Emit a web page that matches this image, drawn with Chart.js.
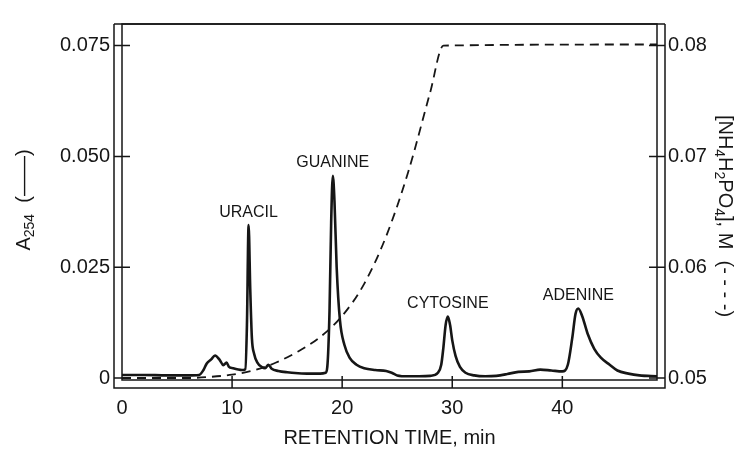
<!DOCTYPE html>
<html>
<head>
<meta charset="utf-8">
<script src="https://cdn.jsdelivr.net/npm/chart.js@4.4.1/dist/chart.umd.min.js"></script>
<style>
  html, body { margin: 0; padding: 0; background: #ffffff; }
  #wrap { width: 747px; height: 451px; }
</style>
</head>
<body>
<div id="wrap"><canvas id="c" width="747" height="451"></canvas></div>
<script>
// ---- Data ----
const timeMin = [0, 2, 4, 6, 7, 7.4, 7.7, 8.1, 8.45, 8.9, 9.2, 9.5, 9.7, 10.1, 10.9, 11.2, 11.35, 11.5, 11.65, 11.8, 12.0, 12.3, 12.7, 13.0, 13.3, 13.6, 14.2, 15, 16, 17, 18, 18.5, 18.65, 18.85, 19.0, 19.15, 19.3, 19.5, 19.8, 20.2, 20.7, 21.3, 22, 23, 24, 24.5, 25, 26, 27, 28, 28.7, 29.0, 29.2, 29.4, 29.6, 29.8, 30.0, 30.3, 30.7, 31.2, 32, 33, 34, 35, 36, 37, 38, 39, 40, 40.5, 40.9, 41.2, 41.45, 41.8, 42.3, 42.9, 43.5, 44.3, 45, 46, 47, 48.6];
const absorbance = [0.0007, 0.0007, 0.0006, 0.0006, 0.0007, 0.0018, 0.0033, 0.0042, 0.0051, 0.0040, 0.0029, 0.0035, 0.0026, 0.0022, 0.0018, 0.0020, 0.0120, 0.0345, 0.0200, 0.0090, 0.0055, 0.0035, 0.0025, 0.0022, 0.0030, 0.0021, 0.0016, 0.0013, 0.0011, 0.0010, 0.0010, 0.0012, 0.0025, 0.0150, 0.0350, 0.0456, 0.0400, 0.0250, 0.0130, 0.0075, 0.0045, 0.0030, 0.0022, 0.0018, 0.0016, 0.0012, 0.0006, 0.0004, 0.0004, 0.0005, 0.0012, 0.0030, 0.0070, 0.0120, 0.0139, 0.0120, 0.0085, 0.0050, 0.0025, 0.0012, 0.0006, 0.0004, 0.0005, 0.0009, 0.0014, 0.0015, 0.0019, 0.0017, 0.0015, 0.0030, 0.0090, 0.0145, 0.0157, 0.0140, 0.0100, 0.0066, 0.0046, 0.0030, 0.0017, 0.0010, 0.0006, 0.0004];

const gradTime = [0, 6, 8, 10, 12, 14, 16, 18, 20, 22, 24, 26, 28, 29.2, 48.6];
const gradConc = [0.0500, 0.0500, 0.0501, 0.0503, 0.0507, 0.0514, 0.0524, 0.0537, 0.0556, 0.0585, 0.0628, 0.0686, 0.0758, 0.0800, 0.0801];

const peakNames = ['URACIL', 'GUANINE', 'CYTOSINE', 'ADENINE'];
const peakTimes = [11.5, 19.15, 29.6, 41.45];

const xTicks = [0, 10, 20, 30, 40];
const leftTicks = [0, 0.025, 0.05, 0.075];
const leftTickLabels = ['0', '0.025', '0.050', '0.075'];
const rightTicks = [0.05, 0.06, 0.07, 0.08];
const rightTickLabels = ['0.05', '0.06', '0.07', '0.08'];

const xTitle = 'RETENTION TIME, min';
// rich titles: [text, isSubscript]
const leftTitleParts = [['A', false], ['254', true], ['  (\u2014\u2014)', false]];
const rightTitleParts = [['[NH', false], ['4', true], ['H', false], ['2', true], ['PO', false], ['4', true], ['], M  (- - - -)', false]];

// ---- Chart ----
const INK = '#161616';
const FONT = 'Liberation Sans, Arial, Helvetica, sans-serif';

const absPoints = timeMin.map((t, i) => ({ x: t, y: absorbance[i] }));
const gradPoints = gradTime.map((t, i) => ({ x: t, y: gradConc[i] }));

function drawRich(ctx, parts, cx, cy, rot) {
  const big = '20px ' + FONT, small = '14px ' + FONT;
  let total = 0;
  parts.forEach(([t, sub]) => { ctx.font = sub ? small : big; total += ctx.measureText(t).width; });
  ctx.save();
  ctx.translate(cx, cy);
  ctx.rotate(rot);
  ctx.textAlign = 'left';
  ctx.textBaseline = 'middle';
  let x = -total / 2;
  parts.forEach(([t, sub]) => {
    ctx.font = sub ? small : big;
    ctx.fillText(t, x, sub ? 6 : 0);
    x += ctx.measureText(t).width;
  });
  ctx.restore();
}

const framePlugin = {
  id: 'frameAndLabels',
  afterDatasetsDraw(chart) {
    const { ctx, chartArea: a, scales } = chart;
    const off = 8;
    ctx.save();
    ctx.strokeStyle = INK;
    ctx.lineWidth = 1.5;
    ctx.strokeRect(a.left, a.top, a.right - a.left, a.bottom - a.top);
    ctx.beginPath();
    ctx.moveTo(a.left - off, a.top);
    ctx.lineTo(a.right + off, a.top);
    ctx.moveTo(a.left - off, a.top);
    ctx.lineTo(a.left - off, a.bottom + off);
    ctx.lineTo(a.right + off, a.bottom + off);
    ctx.lineTo(a.right + off, a.top);
    ctx.stroke();
    ctx.beginPath();
    leftTicks.forEach(v => {
      const y = scales.y.getPixelForValue(v);
      ctx.moveTo(a.left - off, y);
      ctx.lineTo(a.left + 8, y);
    });
    rightTicks.forEach(v => {
      const y = scales.y2.getPixelForValue(v);
      ctx.moveTo(a.right - 8, y);
      ctx.lineTo(a.right + off, y);
    });
    xTicks.forEach(v => {
      if (v === 0) return;
      const x = scales.x.getPixelForValue(v);
      ctx.moveTo(x, a.bottom + off);
      ctx.lineTo(x, a.bottom - 4);
    });
    ctx.stroke();
    // peak labels
    ctx.fillStyle = INK;
    ctx.font = '16px ' + FONT;
    ctx.textAlign = 'center';
    ctx.textBaseline = 'bottom';
    peakNames.forEach((name, i) => {
      const idx = timeMin.indexOf(peakTimes[i]);
      const val = absorbance[idx];
      const x = scales.x.getPixelForValue(peakTimes[i]);
      const y = scales.y.getPixelForValue(val) - 5;
      ctx.fillText(name, x, y);
    });
    // axis titles with subscripts
    const midY = (a.top + a.bottom) / 2;
    drawRich(ctx, leftTitleParts, 24, midY - 2, -Math.PI / 2);
    drawRich(ctx, rightTitleParts, 725, midY + 14, Math.PI / 2);
    ctx.restore();
  }
};

new Chart(document.getElementById('c'), {
  type: 'line',
  data: {
    datasets: [
      {
        label: 'A254',
        data: absPoints,
        yAxisID: 'y',
        borderColor: INK,
        borderWidth: 2.6,
        pointRadius: 0,
        fill: false,
        cubicInterpolationMode: 'monotone'
      },
      {
        label: 'NH4H2PO4',
        data: gradPoints,
        yAxisID: 'y2',
        borderColor: INK,
        borderWidth: 1.8,
        borderDash: [9, 6],
        pointRadius: 0,
        fill: false,
        cubicInterpolationMode: 'monotone'
      }
    ]
  },
  options: {
    responsive: false,
    animation: false,
    devicePixelRatio: 1,
    layout: { padding: { top: 17, left: 0, right: 0, bottom: 0 } },
    plugins: { legend: { display: false }, tooltip: { enabled: false } },
    scales: {
      x: {
        type: 'linear',
        min: 0,
        max: 48.6,
        grid: { display: false },
        border: { display: false },
        afterBuildTicks: s => { s.ticks = xTicks.map(v => ({ value: v })); },
        afterFit: s => { s.height = 71; },
        ticks: {
          color: INK,
          font: { family: FONT, size: 20 },
          padding: 8,
          maxRotation: 0,
          callback: v => String(v)
        },
        title: {
          display: true,
          text: xTitle,
          color: INK,
          font: { family: FONT, size: 20 },
          padding: { top: 0, bottom: 1 }
        }
      },
      y: {
        type: 'linear',
        position: 'left',
        min: -0.00044,
        max: 0.07987,
        grid: { display: false, drawTicks: false },
        border: { display: false },
        afterBuildTicks: s => { s.ticks = leftTicks.map(v => ({ value: v })); },
        afterFit: s => { s.width = 122; },
        ticks: {
          color: INK,
          font: { family: FONT, size: 20 },
          padding: 12,
          callback: (v) => leftTickLabels[leftTicks.indexOf(v)]
        },
        title: { display: false }
      },
      y2: {
        type: 'linear',
        position: 'right',
        min: 0.04982,
        max: 0.08195,
        grid: { display: false, drawTicks: false },
        border: { display: false },
        afterBuildTicks: s => { s.ticks = rightTicks.map(v => ({ value: v })); },
        afterFit: s => { s.width = 90; },
        ticks: {
          color: INK,
          font: { family: FONT, size: 20 },
          padding: 11,
          callback: (v) => rightTickLabels[rightTicks.indexOf(v)]
        },
        title: { display: false }
      }
    }
  },
  plugins: [framePlugin]
});
</script>
</body>
</html>
